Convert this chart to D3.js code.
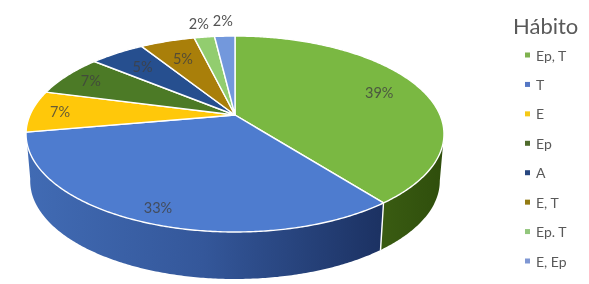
<!DOCTYPE html>
<html>
<head>
<meta charset="utf-8">
<script src="https://cdn.jsdelivr.net/npm/d3@7"></script>
<style>
  html, body { margin: 0; padding: 0; background: #fff; }
  svg { display: block; filter: blur(0.35px); }
  text { font-family: Lato, "Open Sans", sans-serif; }
</style>
</head>
<body>
<svg id="chart" width="589" height="284"></svg>
<script>
const categories = ["Ep, T", "T", "E", "Ep", "A", "E, T", "Ep. T", "E, Ep"];
const shares = [39.49, 32.71, 6.9, 6.9, 5.1, 5.1, 1.9, 1.9];
const topColors = ["#7ab842", "#4e7ccf", "#ffc80a", "#4c7a26", "#264f8f", "#a97f0a", "#92cd6f", "#7398dc"];
const legendColors = ["#7fb24f", "#5577c4", "#f5c916", "#4f6b2c", "#27467f", "#937b13", "#92c67c", "#7f97d3"];
const legendTitle = "Hábito";
// how far along its radius each percent label sits, the tiny slices go outside
const labelRadii = [0.78, 0.88, 0.86, 0.85, 0.76, 0.74, 1.22, 1.24];

const width = 589;
const height = 284;
const apex = { x: 235, y: 115 };
const depth = 47;
// perspective of the tilted disc: k makes the front half look bigger than the back
const tilt = { a: 205, b: 94.3, k: 0.194 };

const svg = d3.select("#chart");

// angle is clockwise from 12 o'clock, r = 1 is the rim
function project(angle, r = 1, shrink = 1, drop = 0) {
  const u = r * Math.sin(angle);
  const v = -r * Math.cos(angle);
  const den = 1 - tilt.k * v;
  return [
    apex.x + (shrink * tilt.a * u) / den,
    apex.y + drop + (tilt.b * v) / den,
  ];
}

function rimAngles(a0, a1) {
  const n = Math.max(2, Math.ceil(Math.abs(a1 - a0) / 0.01));
  return d3.range(n + 1).map((i) => a0 + ((a1 - a0) * i) / n);
}

const line = d3.line();
const pie = d3.pie().sort(null).startAngle(0).endAngle(2 * Math.PI);
const arcs = pie(shares);

const defs = svg.append("defs");
const blueGrad = defs
  .append("linearGradient")
  .attr("id", "wall-blue")
  .attr("gradientUnits", "userSpaceOnUse")
  .attr("x1", 27)
  .attr("x2", 380)
  .attr("y1", 0)
  .attr("y2", 0);
blueGrad.append("stop").attr("offset", "0%").attr("stop-color", "#416bb4");
blueGrad.append("stop").attr("offset", "50%").attr("stop-color", "#34579a");
blueGrad.append("stop").attr("offset", "100%").attr("stop-color", "#1c3263");

const greenGrad = defs
  .append("linearGradient")
  .attr("id", "wall-green")
  .attr("gradientUnits", "userSpaceOnUse")
  .attr("x1", 380)
  .attr("x2", 443)
  .attr("y1", 0)
  .attr("y2", 0);
greenGrad.append("stop").attr("offset", "0%").attr("stop-color", "#3a5c12");
greenGrad.append("stop").attr("offset", "100%").attr("stop-color", "#2f4e0c");

// the wall is only visible between the two side extremes of the rim
const wallFrom = Math.PI - Math.atan(Math.sqrt(1 - tilt.k * tilt.k) / tilt.k);
const wallTo = 2 * Math.PI - wallFrom;
const walls = [
  { fill: "url(#wall-green)", a0: wallFrom, a1: arcs[0].endAngle },
  { fill: "url(#wall-blue)", a0: arcs[1].startAngle, a1: Math.max(arcs[1].endAngle, wallTo) },
];

svg
  .append("g")
  .selectAll("path")
  .data(walls)
  .join("path")
  .attr("fill", (d) => d.fill)
  .attr("d", (d) => {
    const upper = rimAngles(d.a0, d.a1).map((a) => project(a));
    const lower = rimAngles(d.a1, d.a0).map((a) => project(a, 1, 0.98, depth));
    return line(upper.concat(lower)) + "Z";
  });

// white edge where the two walls meet
svg
  .append("path")
  .attr("fill", "none")
  .attr("stroke", "#fff")
  .attr("stroke-width", 1.4)
  .attr("d", line([project(arcs[0].endAngle), project(arcs[0].endAngle, 1, 0.98, depth)]));

// top face
svg
  .append("g")
  .selectAll("path")
  .data(arcs)
  .join("path")
  .attr("fill", (d, i) => topColors[i])
  .attr("stroke", "#fff")
  .attr("stroke-width", 1.4)
  .attr("stroke-linejoin", "round")
  .attr("d", (d) => {
    const rim = rimAngles(d.startAngle, d.endAngle).map((a) => project(a));
    return line([[apex.x, apex.y]].concat(rim)) + "Z";
  });

// percent labels
svg
  .append("g")
  .selectAll("text")
  .data(arcs)
  .join("text")
  .attr("text-anchor", "middle")
  .attr("dominant-baseline", "central")
  .attr("font-size", 14.5)
  .attr("fill", "#404040")
  .attr("fill-opacity", (d) => (d.value < 3 ? 0.9 : 0.8))
  .attr("transform", (d, i) => {
    const mid = (d.startAngle + d.endAngle) / 2;
    const p = project(mid, labelRadii[i]);
    return `translate(${p[0]},${p[1]})`;
  })
  .text((d) => d3.format(".0f")(d.value) + "%");

// legend
const legendY = d3
  .scalePoint()
  .domain(categories)
  .range([55, 261]);

svg
  .append("text")
  .attr("x", 513)
  .attr("y", 34)
  .attr("font-size", 22)
  .attr("fill", "#595959")
  .text(legendTitle);

const legend = svg
  .append("g")
  .selectAll("g")
  .data(categories)
  .join("g")
  .attr("transform", (d) => `translate(525,${legendY(d)})`);

legend
  .append("rect")
  .attr("x", 0)
  .attr("y", -2.5)
  .attr("width", 5)
  .attr("height", 5)
  .attr("fill", (d, i) => legendColors[i]);

legend
  .append("text")
  .attr("x", 11)
  .attr("dominant-baseline", "central")
  .attr("font-size", 14)
  .attr("fill", "#595959")
  .text((d) => d);
</script>
</body>
</html>
